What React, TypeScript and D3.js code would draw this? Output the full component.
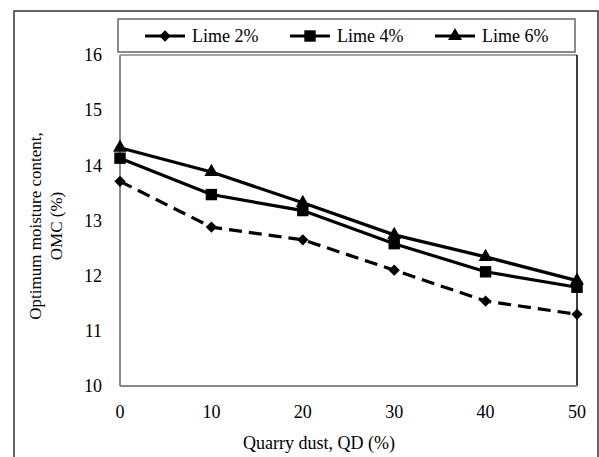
import React from "react";
import { scaleLinear, line, symbol, symbolSquare, symbolTriangle } from "d3";

// quarry dust content (%) on x
const qd = [0, 10, 20, 30, 40, 50];
// OMC (%) for each lime content
const lime2 = [13.71, 12.88, 12.65, 12.1, 11.54, 11.3];
const lime4 = [14.13, 13.47, 13.18, 12.58, 12.07, 11.79];
const lime6 = [14.32, 13.88, 13.32, 12.74, 12.34, 11.91];
const yTicks = [10, 11, 12, 13, 14, 15, 16];
const seriesNames = ["Lime 2%", "Lime 4%", "Lime 6%"];

const W = 599;
const H = 457;
const font = '"Liberation Serif", "Times New Roman", Times, serif';

const App = () => {
  const x = scaleLinear().domain([0, 50]).range([120, 577]);
  const y = scaleLinear().domain([10, 16]).range([386, 55]);

  const series = [
    { name: seriesNames[0], values: lime2, dash: "13,7", marker: "diamond" },
    { name: seriesNames[1], values: lime4, dash: null, marker: "square" },
    { name: seriesNames[2], values: lime6, dash: null, marker: "triangle" },
  ];

  const lineGen = line<number>()
    .x((d, i) => x(qd[i]))
    .y((d) => y(d));

  const markerPath = (m: string) => {
    if (m === "square") return symbol(symbolSquare, 130)();
    if (m === "triangle") return symbol(symbolTriangle, 85)();
    return symbol(symbolSquare, 64)();
  };
  const markerRot = (m: string) => (m === "diamond" ? 45 : 0);

  // legend entries: line start x for each
  const legendX = [145, 290, 435];
  const txt = { fontFamily: font };

  return (
    <svg
      width={W}
      height={H}
      style={{ position: "fixed", left: 0, top: 0, background: "#fff", fontFamily: font }}
    >
      {/* outer chart frame */}
      <rect x={14} y={11} width={584} height={460} fill="none" stroke="#333" strokeWidth={1.5} />

      {/* plot area */}
      <line x1={120} y1={55} x2={577} y2={55} stroke="#888" strokeWidth={1.5} />
      <line x1={577} y1={55} x2={577} y2={386} stroke="#000" strokeWidth={1.5} />
      <line x1={120} y1={55} x2={120} y2={386} stroke="#888" strokeWidth={2} />
      <line x1={120} y1={386} x2={577} y2={386} stroke="#888" strokeWidth={2} />

      {/* y ticks */}
      {yTicks.map((t) => (
        <text key={t} x={102} y={y(t)} dy="0.35em" textAnchor="end" fontSize={18} style={txt}>
          {t}
        </text>
      ))}
      {/* x ticks */}
      {qd.map((t) => (
        <text key={t} x={x(t)} y={418} textAnchor="middle" fontSize={18} style={txt}>
          {t}
        </text>
      ))}

      {/* axis titles */}
      <text x={319} y={449} textAnchor="middle" fontSize={18} style={txt}>
        Quarry dust, QD (%)
      </text>
      <g transform="translate(41,226) rotate(-90)">
        <text x={0} y={0} textAnchor="middle" fontSize={17} style={txt}>
          Optimum moisture content,
        </text>
        <text x={0} y={21} textAnchor="middle" fontSize={17} style={txt}>
          OMC (%)
        </text>
      </g>

      {/* series */}
      {series.map((s) => (
        <g key={s.name}>
          <path
            d={lineGen(s.values) || ""}
            fill="none"
            stroke="#000"
            strokeWidth={3.2}
            strokeDasharray={s.dash || undefined}
          />
          {s.values.map((v, i) => (
            <path
              key={i}
              d={markerPath(s.marker) || ""}
              transform={`translate(${x(qd[i])},${y(v)}) rotate(${markerRot(s.marker)})`}
              fill="#000"
            />
          ))}
        </g>
      ))}

      {/* legend */}
      <rect x={118} y={19} width={457} height={33} fill="#fff" stroke="#666" strokeWidth={1.5} />
      {series.map((s, i) => (
        <g key={s.name} transform={`translate(${legendX[i]},36)`}>
          <line x1={0} y1={0} x2={40} y2={0} stroke="#000" strokeWidth={3.2} />
          <path
            d={markerPath(s.marker) || ""}
            transform={`translate(20,0) rotate(${markerRot(s.marker)})`}
            fill="#000"
          />
          <text x={47} y={0} dy="0.35em" fontSize={18} style={txt}>
            {s.name}
          </text>
        </g>
      ))}
    </svg>
  );
};

export default App;
